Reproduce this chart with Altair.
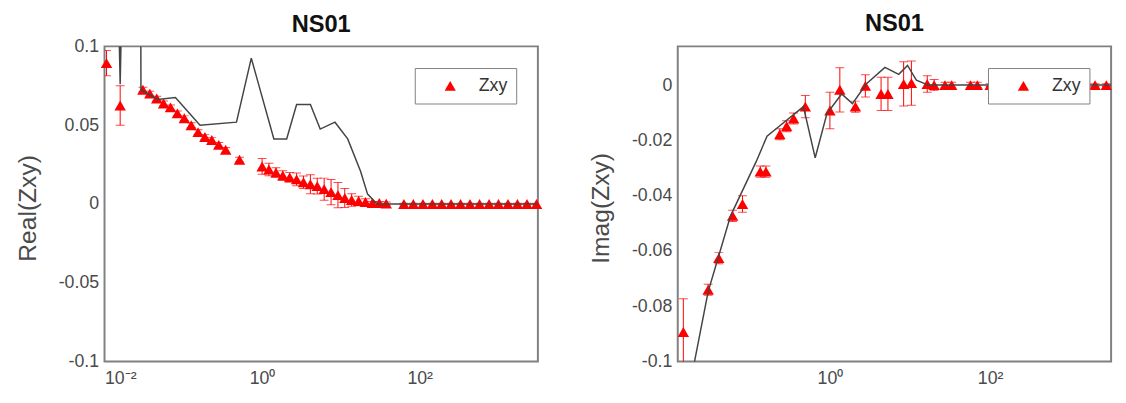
import altair as alt
import pandas as pd

# ---------------- data: Real(Zxy) ----------------
real_freq = [0.0106, 0.0158, 0.0307, 0.0376, 0.046, 0.0562, 0.0688, 0.0841, 0.103, 0.126,
             0.154, 0.188, 0.23, 0.282, 0.345, 0.516, 1.0, 1.22, 1.5, 1.83,
             2.24, 2.74, 3.35, 4.1, 5.01, 6.13, 7.5, 9.17, 11.2, 13.7,
             16.8, 20.5, 25.1, 30.7, 37.6, 63, 83, 110, 145, 190,
             250, 330, 435, 575, 760, 1000, 1320, 1740, 2300, 3040]
real_val = [0.0894, 0.0625, 0.0725, 0.0700, 0.0669, 0.0638, 0.0613, 0.0575, 0.0544, 0.0500,
            0.0456, 0.0425, 0.0406, 0.0375, 0.0344, 0.0281, 0.0238, 0.0219, 0.0200, 0.0181,
            0.0169, 0.0156, 0.0138, 0.0125, 0.0113, 0.0094, 0.0075, 0.0056, 0.0038, 0.0025,
            0.0019, 0.0013, 0.0006, 0.0006, 0.0002, 0.0, 0.0, 0.0, 0.0, 0.0,
            0.0, 0.0, 0.0, 0.0, 0.0, 0.0, 0.0, 0.0, 0.0, 0.0]
real_err = [0.008, 0.0125, 0.0015, 0.0015, 0.0015, 0.0015, 0.0015, 0.0015, 0.0015, 0.0015,
            0.0015, 0.0015, 0.0015, 0.0015, 0.0015, 0.0015, 0.005, 0.004, 0.003, 0.003,
            0.003, 0.004, 0.004, 0.006, 0.005, 0.007, 0.008, 0.008, 0.006, 0.004,
            0.003, 0.002, 0.001, 0.001, 0.001, 0.0005, 0.0005, 0.0005, 0.0005, 0.0005,
            0.0005, 0.0005, 0.0005, 0.0005, 0.0005, 0.0005, 0.0005, 0.0005, 0.0005, 0.0005]
real_model_freq = [0.0150, 0.0158, 0.0166, 0.0288, 0.029, 0.0473, 0.0794, 0.163, 0.473, 0.729,
                   1.41, 2.05, 2.74, 4.1, 5.46, 8.41, 12.2, 17.8, 21.8, 28.8, 3162]
real_model_val = [0.13, 0.076, 0.13, 0.13, 0.0725, 0.0663, 0.0675, 0.05, 0.0519, 0.0925,
                  0.0413, 0.0413, 0.0631, 0.0631, 0.0475, 0.0519, 0.0413, 0.0206, 0.00625, 0.0, 0.0]

# ---------------- data: Imag(Zxy) ----------------
imag_freq = [0.0148, 0.0302, 0.041, 0.061, 0.081, 0.135, 0.159, 0.237, 0.288, 0.352,
             0.493, 1.0, 1.33, 2.08, 2.77, 4.35, 5.3, 8.32, 10.4, 16.4,
             20.0, 27.3, 33.1, 56.9, 69.2, 100, 141, 200, 282, 398,
             562, 794, 1122, 1585, 2042, 2818]
imag_val = [-0.0893, -0.074, -0.0626, -0.0473, -0.043, -0.0313, -0.0313, -0.0178, -0.0149, -0.0121,
            -0.0078, -0.0092, -0.0017, -0.0078, -0.0003, -0.0032, -0.0032, 0.0004, 0.0007, 0.0004,
            0.0, 0.0, 0.0, 0.0, 0.0, 0.0, 0.0, 0.0, 0.0, 0.0,
            0.0, 0.0, 0.0, 0.0, 0.0, 0.0]
imag_err = [0.012, 0.002, 0.002, 0.002, 0.003, 0.002, 0.002, 0.002, 0.002, 0.002,
            0.004, 0.0066, 0.008, 0.002, 0.004, 0.006, 0.006, 0.008, 0.008, 0.003,
            0.002, 0.001, 0.001, 0.001, 0.001, 0.0005, 0.0005, 0.0005, 0.0005, 0.0005,
            0.0005, 0.0005, 0.0005, 0.0005, 0.0005, 0.0005]
imag_model_freq = [0.0186, 0.0302, 0.0575, 0.120, 0.164, 0.217, 0.467, 0.655, 0.918, 1.40,
                   1.91, 2.84, 4.86, 7.23, 9.31, 12.0, 16.9, 3236]
imag_model_val = [-0.106, -0.0747, -0.0473, -0.0277, -0.0185, -0.0156, -0.0078, -0.0263, -0.0103, -0.0032,
                  -0.0067, 0.0004, 0.0064, 0.0039, 0.0071, 0.0018, 0.0, 0.0]

x_ticks = [0.01, 1, 100]
real_ticks = [-0.1, -0.05, 0, 0.05, 0.1]
imag_ticks = [-0.1, -0.08, -0.06, -0.04, -0.02, 0]
series_name = "Zxy"
panel_title = "NS01"

FONT = "Liberation Sans"
LABEL_COLOR = "#4a4a4a"
X_LABELS = "datum.value < 0.05 ? '10⁻²' : (datum.value < 5 ? '10⁰' : '10²')"
Y_LABELS = "datum.value < 0 ? '-' + format(-datum.value, '~g') : format(datum.value, '~g')"


def panel(freq, val, err, mfreq, mval, xdom, ydom, yticks, ytitle, title_dy):
    pts = pd.DataFrame({"freq": freq, "val": val, "err": err})
    pts["lo"] = pts["val"] - pts["err"]
    pts["hi"] = pts["val"] + pts["err"]
    pts["series"] = series_name
    line = pd.DataFrame({"freq": mfreq, "val": mval})

    xenc = alt.X("freq:Q",
                 scale=alt.Scale(type="log", domain=xdom, nice=False),
                 axis=alt.Axis(values=x_ticks, labelExpr=X_LABELS, title=None,
                               grid=False, ticks=False, domain=False,
                               labelFontSize=18, labelFont=FONT, labelColor=LABEL_COLOR,
                               labelPadding=8))
    yscale = alt.Scale(domain=ydom, nice=False, zero=False)
    yaxis = alt.Axis(values=yticks, labelExpr=Y_LABELS, title=ytitle, grid=False,
                     ticks=False, domain=False, labelFontSize=18, labelFont=FONT,
                     labelColor=LABEL_COLOR, labelPadding=6,
                     titleFontSize=25, titleFont=FONT, titleColor=LABEL_COLOR,
                     titleFontWeight="normal", titleX=-78, titleY=164,
                     titleAngle=270, titleAlign="center", titleBaseline="middle")

    base = alt.Chart(pts)
    bars = base.mark_rule(color="#ff0000", strokeWidth=1, clip=True).encode(
        x=xenc, y=alt.Y("lo:Q", scale=yscale, axis=yaxis), y2="hi:Q")
    cap_lo = base.mark_tick(color="#ff0000", orient="horizontal", size=9, thickness=1,
                            clip=True).encode(x=xenc, y=alt.Y("lo:Q", scale=yscale, axis=yaxis))
    cap_hi = base.mark_tick(color="#ff0000", orient="horizontal", size=9, thickness=1,
                            clip=True).encode(x=xenc, y=alt.Y("hi:Q", scale=yscale, axis=yaxis))
    points = base.mark_point(shape="triangle-up", filled=True, size=135, opacity=1).encode(
        x=xenc, y=alt.Y("val:Q", scale=yscale, axis=yaxis),
        color=alt.Color("series:N",
                        scale=alt.Scale(domain=[series_name], range=["#ff0000"]),
                        legend=alt.Legend(title=None, orient="top-right", offset=22,
                                          padding=9, strokeColor="#808080", fillColor="white",
                                          symbolType="triangle-up", symbolSize=130,
                                          symbolOffset=18, labelOffset=20,
                                          labelFontSize=18, labelFont=FONT,
                                          labelColor="#333333", symbolStrokeWidth=0)))
    model = alt.Chart(line).mark_line(color="#444444", strokeWidth=1.5, clip=True).encode(
        x=xenc, y=alt.Y("val:Q", scale=yscale, axis=yaxis))

    return alt.layer(bars, cap_lo, cap_hi, points, model).properties(
        width=440, height=320,
        title=alt.TitleParams(panel_title, fontSize=24, font=FONT, fontWeight="bold",
                              color="#111111", anchor="middle", offset=11, frame="group",
                              dy=title_dy))


left = panel(real_freq, real_val, real_err, real_model_freq, real_model_val,
             [0.01, 3162], [-0.1, 0.1], real_ticks, "Real(Zxy)", 10)
right = panel(imag_freq, imag_val, imag_err, imag_model_freq, imag_model_val,
              [0.0126, 3236], [-0.1, 0.014], imag_ticks, "Imag(Zxy)", 0)

chart = alt.hconcat(left, right, spacing=45).resolve_scale(
    color="independent").resolve_legend(color="independent").properties(
    padding={"left": 7, "top": 0, "right": 5, "bottom": 5}
).configure_view(stroke="#808080", strokeWidth=2)

chart.save("out.html", embed_options={"renderer": "svg", "actions": False})
